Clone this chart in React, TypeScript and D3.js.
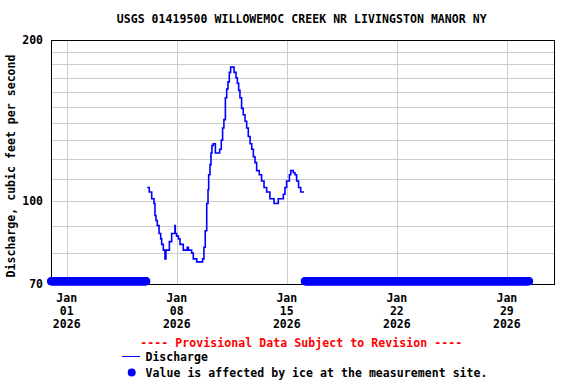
import React from 'react';
import * as d3 from 'd3';

const TITLE = 'USGS 01419500 WILLOWEMOC CREEK NR LIVINGSTON MANOR NY';
const Y_LABEL = 'Discharge, cubic feet per second';

// 15-minute discharge (cfs), step changes only
const dischargeTimes = [
  '2026-01-06 03:00', '2026-01-06 06:00', '2026-01-06 09:45', '2026-01-06 13:15',
  '2026-01-06 14:45', '2026-01-06 16:15', '2026-01-06 18:15', '2026-01-06 21:00',
  '2026-01-06 23:30', '2026-01-07 01:00', '2026-01-07 03:30', '2026-01-07 06:00',
  '2026-01-07 07:30', '2026-01-07 12:45', '2026-01-07 16:15', '2026-01-07 21:15',
  '2026-01-07 21:45', '2026-01-07 23:45', '2026-01-08 02:30', '2026-01-08 05:00',
  '2026-01-08 10:00', '2026-01-08 16:00', '2026-01-08 17:45', '2026-01-08 22:45',
  '2026-01-09 01:15', '2026-01-09 06:30', '2026-01-09 15:30', '2026-01-09 17:30',
  '2026-01-09 19:30', '2026-01-09 21:45', '2026-01-09 23:45', '2026-01-10 00:45',
  '2026-01-10 02:45', '2026-01-10 04:15', '2026-01-10 05:45', '2026-01-10 07:45',
  '2026-01-10 11:00', '2026-01-10 17:30', '2026-01-10 20:00', '2026-01-10 22:00',
  '2026-01-11 00:00', '2026-01-11 02:15', '2026-01-11 04:15', '2026-01-11 06:15',
  '2026-01-11 08:15', '2026-01-11 10:15', '2026-01-11 15:30', '2026-01-11 18:30',
  '2026-01-11 20:30', '2026-01-11 22:30', '2026-01-12 00:30', '2026-01-12 03:00',
  '2026-01-12 05:30', '2026-01-12 08:15', '2026-01-12 10:45', '2026-01-12 13:15',
  '2026-01-12 16:00', '2026-01-12 18:30', '2026-01-12 21:00', '2026-01-12 23:30',
  '2026-01-13 02:00', '2026-01-13 06:00', '2026-01-13 09:30', '2026-01-13 13:15',
  '2026-01-13 17:15', '2026-01-13 22:15', '2026-01-14 04:30', '2026-01-14 11:00',
  '2026-01-14 18:45', '2026-01-14 21:15', '2026-01-14 23:45', '2026-01-15 04:00',
  '2026-01-15 06:00', '2026-01-15 10:00', '2026-01-15 12:30', '2026-01-15 15:00',
  '2026-01-15 18:00', '2026-01-15 21:15', '2026-01-15 23:45', '2026-01-16 02:15',
];
const dischargeValues = [
  106, 104, 101, 99,
  94, 92, 90, 87,
  85, 83, 81, 78,
  81, 84, 87, 90,
  87, 86, 85, 83,
  81, 82, 81, 80,
  78, 77, 78, 82,
  88, 99, 105, 112,
  117, 123, 127, 128,
  123, 125, 130, 137,
  142, 156, 162, 167,
  174, 178, 174, 170,
  166, 161, 156, 149,
  145, 141, 137, 132,
  128, 125, 121, 118,
  114, 112, 109, 106,
  104, 101, 99, 101,
  103, 106, 109, 112,
  114, 113, 112, 109,
  106, 104, 104, 104,
];

// periods flagged "affected by ice"
const icePeriods = [
  ['2025-12-31 00:00', '2026-01-06 01:45'],
  ['2026-01-16 03:30', '2026-01-30 10:00'],
];
const ICE_MARK_VALUE = 71;

const yTicks = [70, 100, 200];
const yGrid = [80, 90, 110, 120, 130, 140, 150, 160, 170, 180, 190];
const xTickDates = ['2026-01-01', '2026-01-08', '2026-01-15', '2026-01-22', '2026-01-29'];
const xTickMonth = ['Jan', 'Jan', 'Jan', 'Jan', 'Jan'];
const xTickDay = ['01', '08', '15', '22', '29'];
const xTickYear = ['2026', '2026', '2026', '2026', '2026'];

const W = 576;
const H = 384;
const left = 51;
const right = 554;
const top = 40;
const bottom = 284;
const BLUE = '#0000ff';
const FONT = '"DejaVu Sans Mono", "Liberation Mono", monospace';

const parse = d3.timeParse('%Y-%m-%d %H:%M');
const parseDay = d3.timeParse('%Y-%m-%d');

export default function App() {
  const x = d3.scaleTime()
    .domain([new Date(2025, 11, 31), new Date(2026, 1, 1)])
    .range([left, right]);
  const y = d3.scaleLog().domain([70, 200]).range([bottom, top]);

  const series = dischargeTimes.map((t, i) => ({ t: parse(t) as Date, v: dischargeValues[i] }));
  const line = d3.line<{ t: Date; v: number }>()
    .x(d => x(d.t))
    .y(d => y(d.v))
    .curve(d3.curveStepAfter);

  const iceDots: Date[] = [];
  icePeriods.forEach(([a, b]) => {
    const s = parse(a) as Date;
    const e = parse(b) as Date;
    d3.timeMinute.every(30)!.range(s, new Date(+e + 1)).forEach(d => iceDots.push(d));
  });

  const txt = { fontFamily: FONT, fontWeight: 'bold' as const, fontSize: 11.5 };

  return (
    <svg width={W} height={H} style={{ position: 'absolute', left: 0, top: 0, background: '#fff' }}>
      <rect x={0} y={0} width={W} height={H} fill="#fff" />
      <text x={301.7} y={23} textAnchor="middle" textLength={370} lengthAdjust="spacing" {...txt}>
        {TITLE}
      </text>

      <defs>
        <clipPath id="plot">
          <rect x={left} y={top} width={right - left} height={bottom - top} />
        </clipPath>
      </defs>

      {yGrid.concat(yTicks).map(v => (
        <line key={'gy' + v} x1={left} x2={right} y1={Math.round(y(v)) + 0.5} y2={Math.round(y(v)) + 0.5}
          stroke="#cccccc" strokeWidth={1} />
      ))}
      {xTickDates.map(d => {
        const px = Math.round(x(parseDay(d) as Date)) + 0.5;
        return <line key={'gx' + d} x1={px} x2={px} y1={top} y2={bottom} stroke="#cccccc" strokeWidth={1} />;
      })}

      <g clipPath="url(#plot)">
        <path d={line(series) ?? ''} fill="none" stroke={BLUE} strokeWidth={1.6} />
      </g>

      <rect x={left + 0.5} y={top + 0.5} width={right - left} height={bottom - top}
        fill="none" stroke="#000" strokeWidth={1} />

      {iceDots.map((d, i) => (
        <circle key={'ice' + i} cx={x(d)} cy={y(ICE_MARK_VALUE) + 0.5} r={4} fill={BLUE} />
      ))}

      {yTicks.map(v => (
        <text key={'yl' + v} x={43} y={y(v) + 4} textAnchor="end" {...txt}>{v}</text>
      ))}
      <text transform={`translate(15,${166}) rotate(-90)`} textAnchor="middle"
        textLength={223} lengthAdjust="spacing" {...txt}>
        {Y_LABEL}
      </text>

      {xTickDates.map((d, i) => {
        const px = x(parseDay(d) as Date);
        return (
          <g key={'xl' + d} {...txt}>
            <text x={px} y={302} textAnchor="middle">{xTickMonth[i]}</text>
            <text x={px} y={315} textAnchor="middle">{xTickDay[i]}</text>
            <text x={px} y={328} textAnchor="middle">{xTickYear[i]}</text>
          </g>
        );
      })}

      <text x={301.3} y={347} textAnchor="middle" fill="#ff0000" textLength={322} lengthAdjust="spacing" {...txt}>
        ---- Provisional Data Subject to Revision ----
      </text>

      <line x1={122} x2={140} y1={356.5} y2={356.5} stroke={BLUE} strokeWidth={1} />
      <text x={145.5} y={361} {...txt}>Discharge</text>
      <circle cx={131.7} cy={372.5} r={4} fill={BLUE} />
      <text x={145.5} y={377} textLength={342} lengthAdjust="spacing" {...txt}>
        Value is affected by ice at the measurement site.
      </text>
    </svg>
  );
}
